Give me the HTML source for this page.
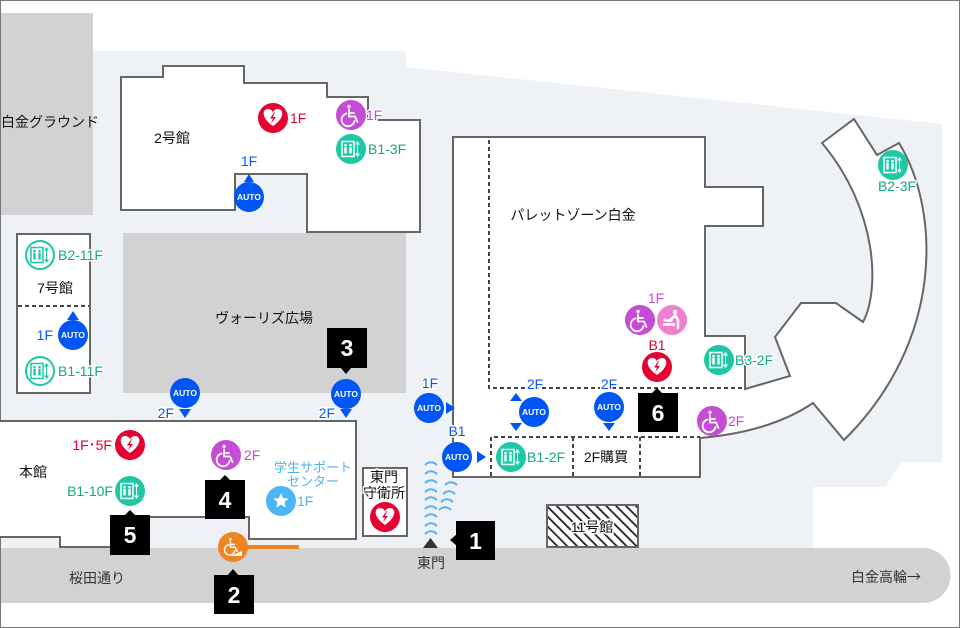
<!DOCTYPE html>
<html><head><meta charset="utf-8">
<style>
html,body{margin:0;padding:0;background:#fff}
svg{display:block}
text{font-family:"Liberation Sans","Noto Sans CJK JP",sans-serif}
.h{stroke:#fff;stroke-width:3;stroke-linejoin:round;paint-order:stroke}
.b{fill:#fff;stroke:#666;stroke-width:2;stroke-linejoin:miter}
.d{stroke:#444;stroke-width:2;stroke-dasharray:4 3;fill:none}
.lbl{font-size:14px;fill:#111}
.fl{font-size:14px}
.red{fill:#e4002b}.pur{fill:#c34bd0}.grn{fill:#14a884}.blu{fill:#0a57f5}.lb{fill:#4cb3f0}
.auto{font-size:8.5px;font-weight:bold;fill:#fff}
.num{font-size:23px;font-weight:bold;fill:#fff}
</style></head>
<body>
<svg width="960" height="628" viewBox="0 0 960 628" xmlns="http://www.w3.org/2000/svg">
<defs>
  <pattern id="hatch" width="7" height="7" patternUnits="userSpaceOnUse" patternTransform="rotate(-45)">
    <rect width="7" height="7" fill="#fff"/>
    <rect x="0" y="0" width="1.8" height="7" fill="#222"/>
  </pattern>
  <g id="aed"><circle r="15" fill="#e60033"/><path d="M0,8 C-12,0 -11,-9 -5,-9 C-2,-9 0,-7 0,-5 C0,-7 2,-9 5,-9 C11,-9 12,0 0,8Z" fill="#fff"/><path d="M1.5,-6 L-3,0.5 L0,0.5 L-2,5.5 L3,-1 L0,-1 L2,-6Z" fill="#e60033"/></g>
  <g id="wcg" fill="none" stroke="#fff" stroke-width="1.8" stroke-linecap="round"><circle cx="-2" cy="-8.5" r="1.7" fill="#fff" stroke="none"/><path d="M-2,-5.5 V1.5 H4 L6.5,7"/><path d="M-2,-2 H3"/><path d="M-4.5,-1.5 A6.5,6.5 0 1 0 3.5,6"/></g>
  <g id="wc"><circle r="15" fill="#c54cd4"/><use href="#wcg"/></g>
  <g id="evw" fill="#fff"><rect x="-9" y="-7.5" width="12" height="15" fill="none" stroke="#fff" stroke-width="1.5"/><circle cx="-5.5" cy="-3.8" r="1.3"/><circle cx="-0.5" cy="-3.8" r="1.3"/><rect x="-6.7" y="-2" width="2.4" height="6.5"/><rect x="-1.7" y="-2" width="2.4" height="6.5"/><path d="M6.5,-8 L9,-4.5 L4,-4.5Z M6.5,8 L9,4.5 L4,4.5Z"/><rect x="6" y="-5" width="1" height="10"/></g>
  <g id="ev"><circle r="15" fill="#1ec8a5"/><use href="#evw"/></g>
  <g id="evo" fill="#1ec8a5"><circle r="14" fill="#fff" stroke="#1ec8a5" stroke-width="2"/><rect x="-9" y="-7.5" width="12" height="15" fill="none" stroke="#1ec8a5" stroke-width="1.5"/><circle cx="-5.5" cy="-3.8" r="1.3"/><circle cx="-0.5" cy="-3.8" r="1.3"/><rect x="-6.7" y="-2" width="2.4" height="6.5"/><rect x="-1.7" y="-2" width="2.4" height="6.5"/><path d="M6.5,-8 L9,-4.5 L4,-4.5Z M6.5,8 L9,4.5 L4,4.5Z"/><rect x="6" y="-5" width="1" height="10"/></g>
  <g id="au"><circle r="15" fill="#0055f5"/></g>
  <g id="arc"><path d="M-6,2 Q0,-3.5 6,2" fill="none" stroke="#58aef0" stroke-width="2"/></g>
</defs>

<!-- frame -->
<rect x="0.5" y="0.5" width="959" height="627" fill="#fff" stroke="#777" stroke-width="1"/>

<!-- campus light area -->
<path d="M93,51 L406,51 L406,67 L942,124 L942,462 L902,462 L885,487 L813,487 L813,548 L1,548 L1,215 L93,215 Z" fill="#eef1f6"/>

<!-- road -->
<path d="M1,548 L923,548 A27.5,27.5 0 0 1 923,603 L1,603 Z" fill="#d2d2d2"/>

<!-- ground -->
<rect x="1" y="13" width="92" height="202" fill="#d2d2d2"/>
<text x="1" y="127" class="lbl">白金グラウンド</text>

<!-- ヴォーリズ広場 -->
<rect x="123" y="233" width="283" height="160" fill="#d2d2d2"/>
<text x="264" y="323" class="lbl" text-anchor="middle">ヴォーリズ広場</text>

<!-- 2号館 -->
<path class="b" d="M121,77 L163,77 L163,66 L244,66 L244,83 L327,83 L327,97 L368,97 L368,120 L420,120 L420,232 L307,232 L307,174 L235,174 L235,210 L121,210 Z"/>
<text x="172" y="143" class="lbl" text-anchor="middle">2号館</text>

<!-- 7号館 -->
<rect class="b" x="17" y="234" width="73" height="159"/>
<line x1="18" y1="306" x2="89" y2="306" class="d"/>
<text x="55" y="293" class="lbl" text-anchor="middle">7号館</text>

<!-- 本館 -->
<path class="b" d="M0,421 L356,421 L356,539 L249,539 L249,517 L130,517 L130,547 L60,547 L60,537 L0,537"/>
<text x="33" y="477" class="lbl" text-anchor="middle">本館</text>

<!-- 守衛所 -->
<rect class="b" x="363" y="468" width="44" height="68"/>

<!-- パレットゾーン + arc -->
<path class="b" d="M453,137 L705,137 L705,187 L763,187 L763,226 L705,226 L705,336 L745,336 L745,389 L790,376 L775,337 L801,303 L836,303 L863,322 C880,290 878,210 822,143 L854,119 L877,155 L899,143 C940,210 945,340 844,440 L813,403 Q770,432 700,438 L700,477 L453,477 Z"/>
<path class="d" d="M489,140 L489,388 L745,388"/>
<path class="d" d="M491,476 L491,437 L700,437"/>
<line class="d" x1="573" y1="437" x2="573" y2="476"/>
<line class="d" x1="640" y1="437" x2="640" y2="476"/>
<text x="573" y="220" class="lbl" text-anchor="middle">パレットゾーン白金</text>
<text x="606" y="462" class="lbl" text-anchor="middle">2F購買</text>

<!-- 11号館 -->
<rect x="547" y="505" width="91" height="42" fill="url(#hatch)" stroke="#666" stroke-width="2"/>
<text x="592" y="532" class="lbl h" text-anchor="middle">11号館</text>

<!-- road labels -->
<text x="97" y="583" font-size="14" fill="#333" text-anchor="middle">桜田通り</text>
<text x="886" y="582" font-size="14" fill="#333" text-anchor="middle">白金高輪<tspan font-family="Noto Sans CJK JP, sans-serif">→</tspan></text>
<polygon points="423,548 438,548 430.5,538" fill="#333"/>
<text x="431" y="568" font-size="14" fill="#333" text-anchor="middle">東門</text>

<!-- wifi arcs -->
<use href="#arc" x="431" y="463"/><use href="#arc" x="431" y="472"/><use href="#arc" x="431" y="481"/>
<use href="#arc" x="431" y="490"/><use href="#arc" x="431" y="498"/><use href="#arc" x="431" y="507"/>
<use href="#arc" x="431" y="515"/><use href="#arc" x="431" y="524"/><use href="#arc" x="431" y="532"/>
<use href="#arc" x="451" y="483"/><use href="#arc" x="449" y="492"/><use href="#arc" x="447" y="500"/><use href="#arc" x="445" y="508"/>

<!-- 2号館 icons -->
<use href="#aed" x="273" y="118"/>
<text x="290" y="123" class="fl red h">1F</text>
<use href="#wc" x="351" y="115"/>
<text x="366" y="120" class="fl pur h">1F</text>
<use href="#ev" x="351" y="149"/>
<text x="368" y="154" class="fl grn h">B1-3F</text>
<use href="#au" x="249" y="197"/>
<text x="249" y="200" class="auto" text-anchor="middle">AUTO</text>
<polygon points="244,182 254,182 249,174" fill="#0055f5"/>
<text x="249" y="166" class="fl blu h" text-anchor="middle">1F</text>

<!-- 7号館 icons -->
<use href="#evo" x="40" y="255"/>
<text x="58" y="260" class="fl grn h">B2-11F</text>
<use href="#evo" x="40" y="371"/>
<text x="58" y="376" class="fl grn h">B1-11F</text>
<use href="#au" x="73" y="335"/>
<text x="73" y="338" class="auto" text-anchor="middle">AUTO</text>
<polygon points="67,320 79,320 73,311" fill="#0055f5"/>
<text x="53" y="340" class="fl blu h" text-anchor="end">1F</text>

<!-- ヴォーリズ AUTO -->
<use href="#au" x="185" y="393"/>
<text x="185" y="396" class="auto" text-anchor="middle">AUTO</text>
<polygon points="179,409 191,409 185,418" fill="#0055f5"/>
<text x="174" y="418" class="fl blu h" text-anchor="end">2F</text>
<use href="#au" x="346" y="394"/>
<text x="346" y="397" class="auto" text-anchor="middle">AUTO</text>
<polygon points="340,409 352,409 346,418" fill="#0055f5"/>
<text x="335" y="418" class="fl blu h" text-anchor="end">2F</text>

<!-- center AUTOs -->
<use href="#au" x="429" y="408"/>
<text x="429" y="411" class="auto" text-anchor="middle">AUTO</text>
<polygon points="446,402 446,414 455,408" fill="#0055f5"/>
<text x="430" y="388" class="fl blu h" text-anchor="middle">1F</text>
<use href="#au" x="457" y="457"/>
<text x="457" y="460" class="auto" text-anchor="middle">AUTO</text>
<polygon points="477,451 477,463 486,457" fill="#0055f5"/>
<text x="457" y="436" class="fl blu h" text-anchor="middle">B1</text>
<use href="#au" x="534" y="412"/>
<text x="534" y="415" class="auto" text-anchor="middle">AUTO</text>
<polygon points="510,401 522,401 516,393" fill="#0055f5"/>
<polygon points="510,423 522,423 516,431" fill="#0055f5"/>
<text x="535" y="389" class="fl blu h" text-anchor="middle">2F</text>
<use href="#au" x="609" y="407"/>
<text x="609" y="410" class="auto" text-anchor="middle">AUTO</text>
<polygon points="603,423 615,423 609,431" fill="#0055f5"/>
<text x="609" y="389" class="fl blu h" text-anchor="middle">2F</text>

<!-- パレット icons -->
<use href="#ev" x="511" y="457"/>
<text x="527" y="462" class="fl grn h">B1-2F</text>
<use href="#wc" x="640" y="320"/>
<g transform="translate(672,320)">
  <circle r="15" fill="#f07fcf"/>
  <circle cx="3" cy="-8" r="2.2" fill="#fff"/>
  <path d="M3,-5 L6,0 L6,8 M3,-4 L-2,0" stroke="#fff" stroke-width="2.6" fill="none" stroke-linecap="round"/>
  <rect x="-9" y="3" width="12" height="3" fill="#fff"/>
  <circle cx="-7" cy="0" r="1.6" fill="#fff"/>
  <rect x="-5.5" y="-0.5" width="6" height="2.5" fill="#fff"/>
</g>
<text x="656" y="303" class="fl pur h" text-anchor="middle">1F</text>
<use href="#aed" x="657" y="367"/>
<text x="657" y="350" class="fl red h" text-anchor="middle">B1</text>
<use href="#ev" x="719" y="360"/>
<text x="735" y="365" class="fl grn h">B3-2F</text>
<use href="#wc" x="712" y="421"/>
<text x="728" y="426" class="fl pur h">2F</text>
<use href="#ev" x="893" y="165"/>
<text x="897" y="191" class="fl grn h" text-anchor="middle">B2-3F</text>

<!-- 本館 icons -->
<use href="#aed" x="130" y="445"/>
<text x="112" y="450" class="fl red h" text-anchor="end">1F･5F</text>
<use href="#ev" x="130" y="491"/>
<text x="113" y="496" class="fl grn h" text-anchor="end">B1-10F</text>
<use href="#wc" x="226" y="455"/>
<text x="244" y="460" class="fl pur h">2F</text>
<text x="313" y="472" font-size="13" class="lb" text-anchor="middle">学生サポート</text>
<text x="313" y="486" font-size="13" class="lb" text-anchor="middle">センター</text>
<g transform="translate(281,501)">
  <circle r="15" fill="#4cb5f5"/>
  <polygon points="0,-8 2.1,-2.9 7.6,-2.5 3.4,1.1 4.7,6.5 0,3.6 -4.7,6.5 -3.4,1.1 -7.6,-2.5 -2.1,-2.9" fill="#fff"/>
</g>
<text x="297" y="506" class="fl lb h">1F</text>

<!-- 守衛所 -->
<text x="384" y="482" class="lbl h" text-anchor="middle">東門</text>
<text x="384" y="498" class="lbl h" text-anchor="middle">守衛所</text>
<use href="#aed" x="385" y="517"/>

<!-- orange ramp -->
<line x1="246" y1="547" x2="299" y2="547" stroke="#ee8522" stroke-width="4"/>
<g transform="translate(233,547)">
  <circle r="15" fill="#ee8522"/>
  <g transform="translate(-1,-1) scale(0.8)"><use href="#wcg"/></g>
  <path d="M-2,9 L9,9 L9,4 Z" fill="#fff"/>
</g>

<!-- number boxes -->
<rect x="456" y="521" width="39" height="39" fill="#000"/>
<polygon points="450,540 457,534 457,546" fill="#000"/>
<text x="475.5" y="549" class="num" text-anchor="middle">1</text>

<rect x="214" y="575" width="40" height="39" fill="#000"/>
<polygon points="233,569 227,576 239,576" fill="#000"/>
<text x="234" y="603" class="num" text-anchor="middle">2</text>

<rect x="327" y="328" width="40" height="40" fill="#000"/>
<polygon points="346,374 340,367 352,367" fill="#000"/>
<text x="347" y="356" class="num" text-anchor="middle">3</text>

<rect x="205" y="480" width="40" height="39" fill="#000"/>
<polygon points="225,475 219,481 231,481" fill="#000"/>
<text x="225" y="508" class="num" text-anchor="middle">4</text>

<rect x="110" y="515" width="40" height="40" fill="#000"/>
<polygon points="130,510 124,516 136,516" fill="#000"/>
<text x="130" y="543" class="num" text-anchor="middle">5</text>

<rect x="638" y="393" width="40" height="39" fill="#000"/>
<polygon points="657,388 651,394 663,394" fill="#000"/>
<text x="658" y="421" class="num" text-anchor="middle">6</text>
</svg>
</body></html>
